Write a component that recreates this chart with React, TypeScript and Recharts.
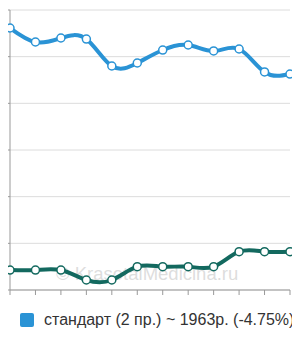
import React from "react";
import { LineChart, Line, XAxis, YAxis, CartesianGrid, Legend, Customized } from "recharts";

const categories = ["1", "2", "3", "4", "5", "6", "7", "8", "9", "10", "11", "12"];
const standardValues = [2807, 2657, 2700, 2689, 2400, 2432, 2571, 2625, 2561, 2582, 2336, 2314];
const secondValues = [214, 214, 214, 107, 107, 250, 250, 250, 250, 411, 411, 411];
const yTicks = [0, 500, 1000, 1500, 2000, 2500, 3000];
const legendLabel = "стандарт (2 пр.) ~ 1963р. (-4.75%)";
const watermark = "© KrasotaiMedicina.ru";

const BLUE = "#2a93d5";
const GREEN = "#13695f";

const data = categories.map((c, i) => ({ cat: c, standard: standardValues[i], second: secondValues[i] }));

const LegendContent = () => (
  <div style={{ display: "flex", alignItems: "center", paddingLeft: 20, paddingTop: 11, fontFamily: "'Liberation Sans', Arial, sans-serif", fontSize: 16, color: "#333", whiteSpace: "nowrap", width: 300, boxSizing: "border-box" }}>
    <span style={{ display: "inline-block", flexShrink: 0, width: 14, height: 14, background: BLUE, borderRadius: 2, marginRight: 10 }} />
    <span>{legendLabel}</span>
  </div>
);

const Watermark = () => (
  <text x={56} y={280} fontFamily="'Liberation Sans', Arial, sans-serif" fontSize={18.5} fill="#bbbbbb" fillOpacity={0.5}>
    {watermark}
  </text>
);

export default function App() {
  return (
    <div style={{ margin: "-8px 0 0 -8px", width: 300, height: 340 }}>
      <LineChart width={300} height={340} data={data} margin={{ top: 10, right: 10, left: 0, bottom: 0 }}>
        <CartesianGrid vertical={false} stroke="#dcdcdc" />
        <XAxis dataKey="cat" height={10} tickSize={5} tickFormatter={() => ""} stroke="#999" tickLine={{ stroke: "#999" }} interval={0} />
        <YAxis width={10} domain={[0, 3000]} ticks={yTicks} tickSize={5} tickFormatter={() => ""} stroke="#999" tickLine={{ stroke: "#999" }} />
        <Legend verticalAlign="bottom" height={40} content={<LegendContent />} />
        <Line type="natural" dataKey="second" stroke={GREEN} strokeWidth={4} dot={{ r: 4, fill: "#fff", stroke: GREEN, strokeWidth: 1.5 }} isAnimationActive={false} />
        <Line type="natural" dataKey="standard" stroke={BLUE} strokeWidth={4} dot={{ r: 4, fill: "#fff", stroke: BLUE, strokeWidth: 1.5 }} isAnimationActive={false} />
        <Customized component={Watermark} />
      </LineChart>
    </div>
  );
}
